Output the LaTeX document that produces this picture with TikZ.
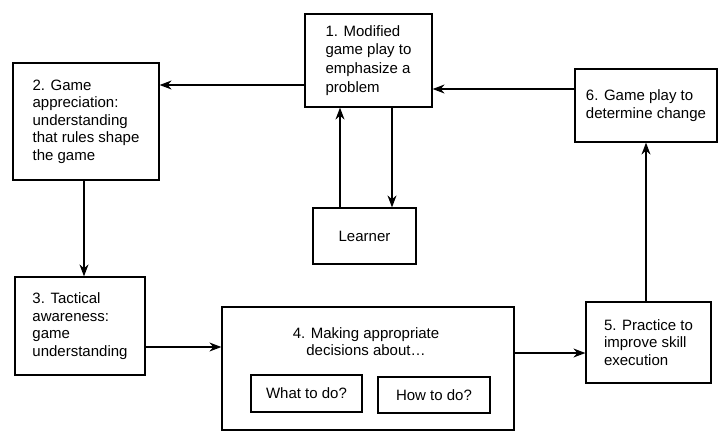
\documentclass[tikz,border=0pt]{standalone}
\usepackage{fontspec}
\setmainfont{Liberation Sans}
\usetikzlibrary{arrows.meta}
\newcommand{\fs}{\fontsize{15}{17.5}\selectfont}
\tikzset{
  box/.style={draw, line width=1.2pt, align=left, inner sep=0pt, font=\fs},
  arr/.style={-{Stealth[length=12pt,width=9pt]}, line width=1.2pt}
}
\begin{document}
\begin{tikzpicture}[x=1pt,y=-1pt]
\useasboundingbox (0,0) rectangle (718,432);
\node[box, minimum width=127pt, minimum height=93pt, font=\fontsize{15}{18.8}\selectfont] (b1) at (368.5,60.5) {1. Modified\\game play to\\emphasize a\\problem};
\node[box, minimum width=146pt, minimum height=117pt] (b2) at (86,121.5) {2. Game\\appreciation:\\understanding\\that rules shape\\the game};
\node[box, minimum width=142pt, minimum height=73pt] (b6) at (646,105.5) {6. Game play to\\determine change\hspace{8pt}};
\node[box, minimum width=103pt, minimum height=56pt, align=center] (lr) at (364.5,236) {Learner};
\node[box, minimum width=130pt, minimum height=98pt] (b3) at (80,326) {3. Tactical\\awareness:\\game\\understanding};
\node[box, minimum width=292pt, minimum height=123pt] (b4) at (368,368.5) {};
\node[align=center, inner sep=0pt, font=\fontsize{15}{17}\selectfont] (b4t) at (366,341.5) {4. Making appropriate\\decisions about\dots};
\node[box, minimum width=111pt, minimum height=37pt, align=center] (what) at (306.5,393.5) {What to do?};
\node[box, minimum width=112pt, minimum height=36pt, align=center] (how) at (434,395) {How to do?};
\node[box, minimum width=125pt, minimum height=81pt] (b5) at (648.5,342.5) {5. Practice to\\improve skill\\execution};
\draw[arr] ([yshift=-24.5pt]b1.west) -- ([yshift=-24.5pt]b1.west -| b2.east);
\draw[arr] ([yshift=16.5pt]b6.west) -- ([yshift=16.5pt]b6.west -| b1.east);
\draw[arr] ([xshift=-24.5pt]lr.north) -- ([xshift=-24.5pt]lr.north |- b1.south);
\draw[arr] ([xshift=27.5pt]lr.north |- b1.south) -- ([xshift=27.5pt]lr.north);
\draw[arr] ([xshift=-2pt]b2.south) -- ([xshift=-2pt]b2.south |- b3.north);
\draw[arr] ([yshift=-21pt]b3.east) -- ([yshift=-21pt]b3.east -| b4.west);
\draw[arr] ([yshift=-10.5pt]b5.west -| b4.east) -- ([yshift=-10.5pt]b5.west);
\draw[arr] ([xshift=-2.5pt]b5.north) -- ([xshift=-2.5pt]b5.north |- b6.south);
\end{tikzpicture}
\end{document}
